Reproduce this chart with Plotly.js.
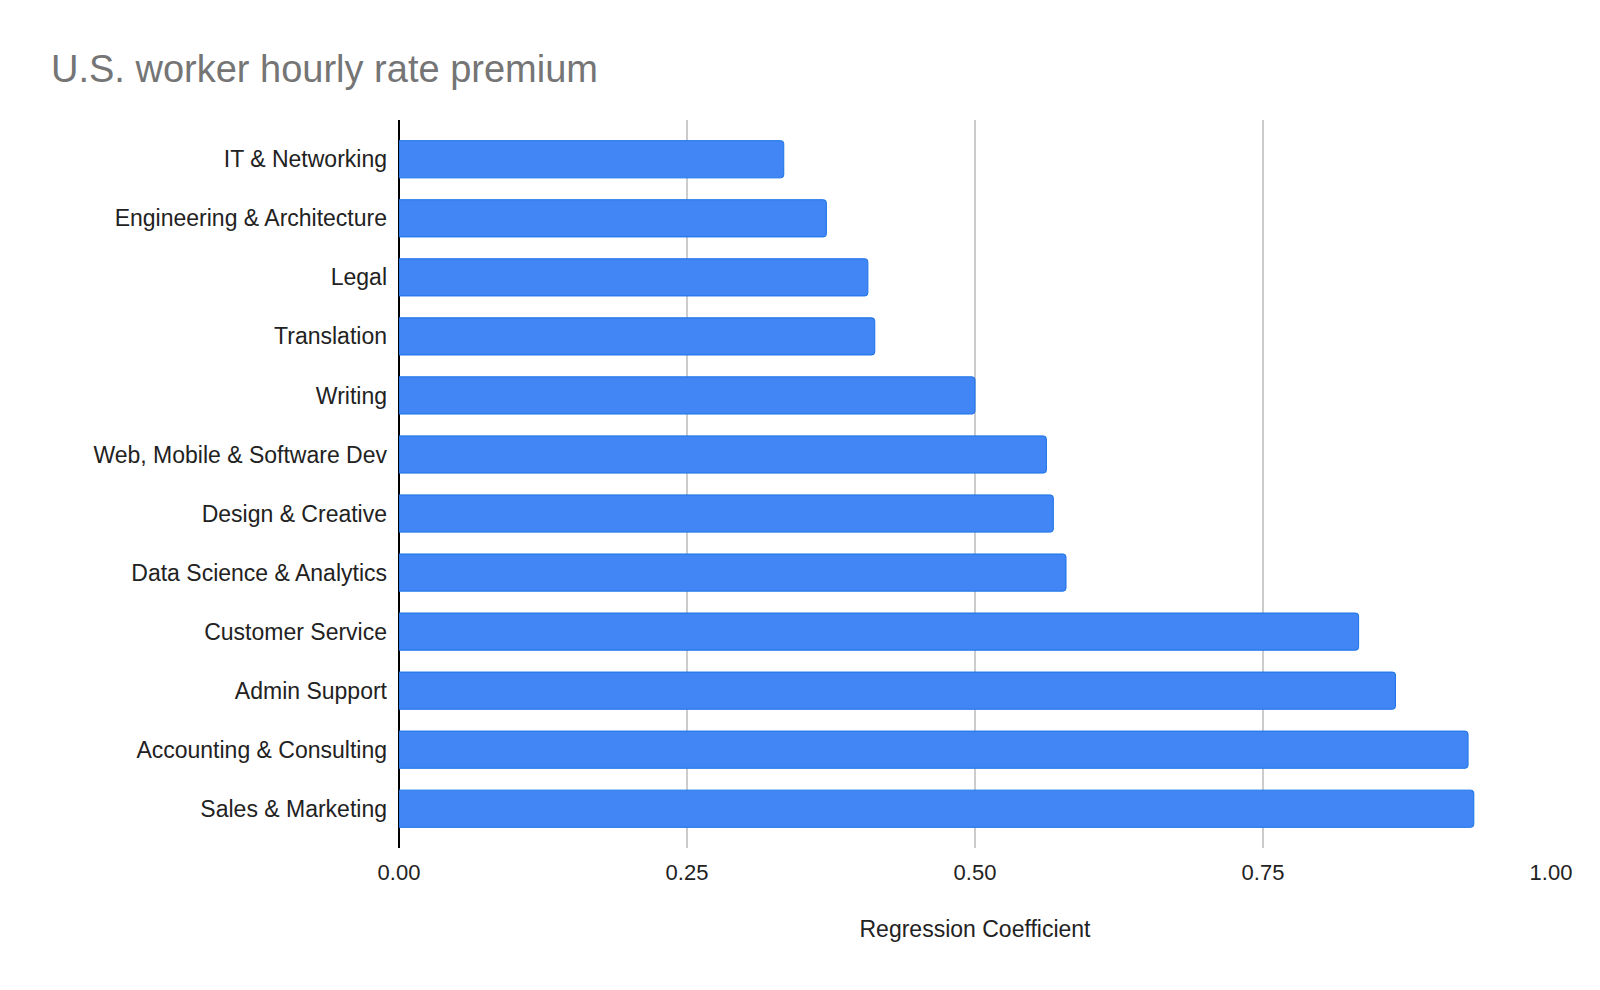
<!DOCTYPE html>
<html>
<head>
<meta charset="utf-8">
<script src="https://cdn.plot.ly/plotly-3.0.1.min.js"></script>
<style>
  html, body { margin: 0; padding: 0; background: #fff; }
  #chart { width: 1600px; height: 990px; }
</style>
</head>
<body>
<div id="chart"></div>
<script>
// Categories, top to bottom as they appear on the chart
var categories = [
    "IT & Networking",
    "Engineering & Architecture",
    "Legal",
    "Translation",
    "Writing",
    "Web, Mobile & Software Dev",
    "Design & Creative",
    "Data Science & Analytics",
    "Customer Service",
    "Admin Support",
    "Accounting & Consulting",
    "Sales & Marketing"
]

// Regression coefficient per category
var coefficients = [
    0.334, 0.371, 0.407, 0.413, 0.500, 0.562,
    0.568, 0.579, 0.833, 0.865, 0.928, 0.933
]

var xTicks = [0, 0.25, 0.5, 0.75, 1]
var xTickLabels = ["0.00", "0.25", "0.50", "0.75", "1.00"]

var font = "Arial, 'Liberation Sans', sans-serif"

var data = [{
    type: 'bar',
    orientation: 'h',
    x: coefficients,
    y: categories,
    marker: {
        color: "#4285F4",
        line: { color: "#1A73E8", width: 1 },
        cornerradius: 3
    },
    hoverinfo: 'x+y'
}]

var layout = {
    width: 1600,
    height: 990,
    paper_bgcolor: '#ffffff',
    plot_bgcolor: '#ffffff',
    font: { family: font, color: "#222222", size: 23 },
    showlegend: false,
    margin: { l: 399, r: 49, t: 120, b: 142 },
    title: {
        text: "U.S. worker hourly rate premium",
        font: { family: font, size: 38, color: "#757575" },
        xref: 'container',
        yref: 'container',
        x: 51 / 1600,
        xanchor: 'left',
        y: 1 - 69 / 990,
        yanchor: 'middle'
    },
    bargap: 0.37,
    xaxis: {
        range: [0, 1],
        tickvals: xTicks,
        ticktext: xTickLabels,
        showgrid: true,
        gridcolor: "#CCCCCC",
        gridwidth: 2,
        zeroline: true,
        zerolinecolor: "#000000",
        zerolinewidth: 2,
        showline: false,
        ticks: '',
        ticklabelstandoff: 9,
        tickfont: { size: 22, color: "#222222" },
        title: {
            text: "Regression Coefficient",
            font: { size: 23, color: "#222222" },
            standoff: 36
        },
        fixedrange: true,
        automargin: false
    },
    yaxis: {
        type: 'category',
        range: [11.665, -0.665], // first category on top
        showgrid: false,
        zeroline: false,
        showline: false,
        ticks: '',
        ticklabelstandoff: 11,
        tickfont: { size: 23, color: "#222222" },
        fixedrange: true,
        automargin: false
    }
}

var config = {
    displayModeBar: false,
    staticPlot: false
}

Plotly.newPlot("chart", data, layout, config)
</script>
</body>
</html>
